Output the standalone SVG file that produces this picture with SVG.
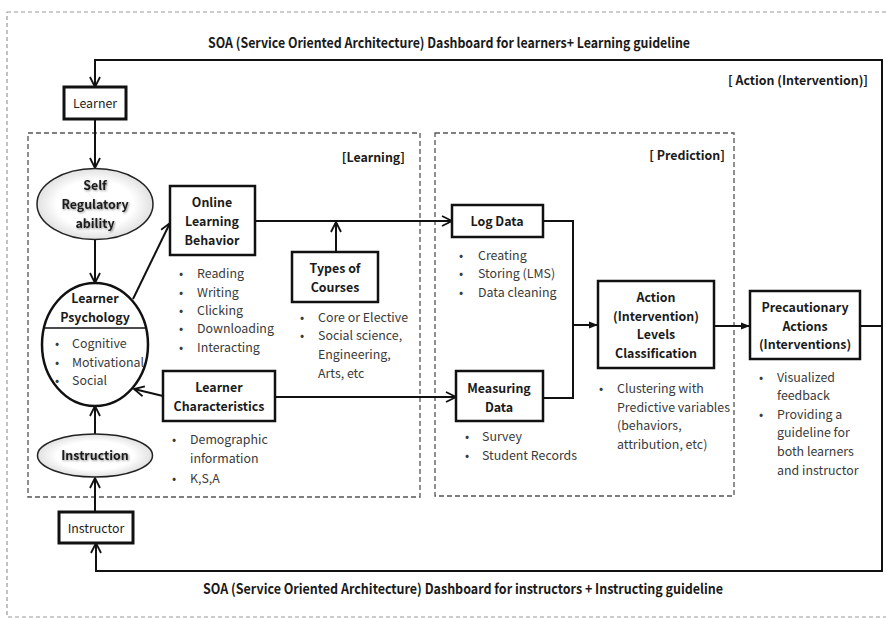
<svg xmlns="http://www.w3.org/2000/svg" width="886" height="618" viewBox="0 0 886 618">
<style>
text{font-family:"Noto Sans CJK KR","Liberation Sans",sans-serif;fill:#2a2a2a}
.t{font-size:12.4px;fill:#3a3a3a}
.b{font-size:12.4px;font-weight:bold;fill:#1a1a1a}
.h{font-size:14px;font-weight:bold;fill:#1a1a1a}
.m{text-anchor:middle}
.e{text-anchor:end}
.box{fill:#fff;stroke:#111;stroke-width:2.5}
.thick{fill:#fff;stroke:#111;stroke-width:3}
.dash{fill:none;stroke:#555;stroke-width:1.3;stroke-dasharray:5 3}
.outer{fill:none;stroke:#999;stroke-width:1.2;stroke-dasharray:4 3}
.ln{fill:none;stroke:#111;stroke-width:2}
.oa{marker-end:url(#open)}
.fa{marker-end:url(#fill)}
.sh{filter:url(#glow)}
</style>
<defs>
<marker id="open" viewBox="0 0 12 12" refX="11" refY="6" markerWidth="12" markerHeight="12" markerUnits="userSpaceOnUse" orient="auto">
<path d="M1,1 L11,6 L1,11" fill="none" stroke="#111" stroke-width="1.8"/>
</marker>
<marker id="fill" viewBox="0 0 10 10" refX="10" refY="5" markerWidth="9" markerHeight="9" markerUnits="userSpaceOnUse" orient="auto">
<path d="M0,1 L10,5 L0,9 z" fill="#111"/>
</marker>
<radialGradient id="eg" cx="50%" cy="50%" r="55%">
<stop offset="0.6" stop-color="#ffffff"/>
<stop offset="1" stop-color="#d8d8d8"/>
</radialGradient>
<filter id="glow" x="-20%" y="-40%" width="140%" height="180%">
<feGaussianBlur in="SourceAlpha" stdDeviation="1.2" result="b"/>
<feOffset dx="1" dy="1" result="o"/>
<feComponentTransfer in="o" result="s"><feFuncA type="linear" slope="0.45"/></feComponentTransfer>
<feMerge><feMergeNode in="s"/><feMergeNode in="SourceGraphic"/></feMerge>
</filter>
</defs>

<rect class="outer" x="7" y="12" width="890" height="605"/>
<rect class="dash" x="28" y="133" width="392" height="364"/>
<rect class="dash" x="435" y="133" width="299" height="363"/>

<text class="h m" x="449" y="48" textLength="482" lengthAdjust="spacingAndGlyphs">SOA (Service Oriented Architecture) Dashboard for learners+ Learning guideline</text>
<text class="h m" x="463" y="594" textLength="520" lengthAdjust="spacingAndGlyphs">SOA (Service Oriented Architecture) Dashboard for instructors + Instructing guideline</text>
<text class="b e" x="868" y="85">[ Action (Intervention)]</text>
<text class="b e" x="405" y="162">[Learning]</text>
<text class="b e" x="725" y="160">[ Prediction]</text>

<g id="connectors">
<path class="ln oa" d="M882,326 L882,60 L95,60 L95,87"/>
<path class="ln oa" d="M882,326 L882,571 L96,571 L96,543"/>
<path class="ln oa" d="M95,119 L95,168"/>
<path class="ln oa" d="M95,239 L95,283"/>
<path class="ln oa" d="M95,477 L95,406"/>
<path class="ln oa" d="M95,512 L95,478"/>
<path class="ln oa" d="M133,299 L170,223"/>
<path class="ln oa" d="M163,396 L134,389"/>
<path class="ln oa" d="M255,221 L452,221"/>
<path class="ln oa" d="M336,252 L336,222"/>
<path class="ln oa" d="M275,397 L456,397"/>
<path class="ln" d="M543,221 L573,221 L573,398 L543,398"/>
<path class="ln fa" d="M573,325 L598,325"/>
<path class="ln fa" d="M714,326 L750,326"/>
<path class="ln" d="M860,326 L882,326"/>
</g>

<g id="learner">
<rect class="thick" x="64" y="87" width="62" height="32"/>
<text class="t m" x="95" y="108" style="fill:#222">Learner</text>
</g>

<g id="self-regulatory">
<ellipse cx="95" cy="204" rx="58" ry="35.5" fill="url(#eg)" stroke="#222" stroke-width="1.5"/>
<text class="b m sh" x="95" y="190">Self</text>
<text class="b m sh" x="95" y="209">Regulatory</text>
<text class="b m sh" x="95" y="228">ability</text>
</g>

<g id="learner-psychology">
<ellipse cx="95" cy="344.5" rx="53" ry="61.5" fill="#fff" stroke="#111" stroke-width="2.5"/>
<line x1="43" y1="328" x2="147" y2="328" stroke="#111" stroke-width="1.5"/>
<text class="b m" x="95" y="303">Learner</text>
<text class="b m" x="95" y="322">Psychology</text>
<text class="t" x="55" y="348">•</text><text class="t" x="72" y="348">Cognitive</text>
<text class="t" x="55" y="367">•</text><text class="t" x="72" y="367">Motivational</text>
<text class="t" x="55" y="385">•</text><text class="t" x="72" y="385">Social</text>
</g>

<g id="instruction">
<ellipse cx="95" cy="455.5" rx="57.5" ry="21.5" fill="url(#eg)" stroke="#222" stroke-width="1.5"/>
<text class="b m sh" x="95" y="460">Instruction</text>
</g>

<g id="instructor">
<rect class="thick" x="59" y="512" width="74" height="31"/>
<text class="t m" x="96" y="533" style="fill:#222">Instructor</text>
</g>

<g id="online-learning-behavior">
<rect class="box" x="170" y="186" width="85" height="69"/>
<text class="b m" x="212" y="207">Online</text>
<text class="b m" x="212" y="226">Learning</text>
<text class="b m" x="212" y="245">Behavior</text>
<text class="t" x="179" y="278">•</text><text class="t" x="197" y="278">Reading</text>
<text class="t" x="179" y="297">•</text><text class="t" x="197" y="297">Writing</text>
<text class="t" x="179" y="315">•</text><text class="t" x="197" y="315">Clicking</text>
<text class="t" x="179" y="333">•</text><text class="t" x="197" y="333">Downloading</text>
<text class="t" x="179" y="352">•</text><text class="t" x="197" y="352">Interacting</text>
</g>

<g id="types-of-courses">
<rect class="box" x="292" y="252" width="86" height="50"/>
<text class="b m" x="335" y="273">Types of</text>
<text class="b m" x="335" y="292">Courses</text>
<text class="t" x="300" y="322">•</text><text class="t" x="318" y="322">Core or Elective</text>
<text class="t" x="300" y="340">•</text><text class="t" x="318" y="340">Social science,</text>
<text class="t" x="318" y="359">Engineering,</text>
<text class="t" x="318" y="378">Arts, etc</text>
</g>

<g id="learner-characteristics">
<rect class="box" x="163" y="371" width="112" height="50"/>
<text class="b m" x="219" y="392">Learner</text>
<text class="b m" x="219" y="411">Characteristics</text>
<text class="t" x="172" y="444">•</text><text class="t" x="190" y="444">Demographic</text>
<text class="t" x="190" y="463">information</text>
<text class="t" x="172" y="483">•</text><text class="t" x="190" y="483">K,S,A</text>
</g>

<g id="log-data">
<rect class="box" x="452" y="205" width="91" height="32"/>
<text class="b m" x="497" y="226">Log Data</text>
<text class="t" x="459" y="260">•</text><text class="t" x="478" y="260">Creating</text>
<text class="t" x="459" y="278">•</text><text class="t" x="478" y="278">Storing (LMS)</text>
<text class="t" x="459" y="297">•</text><text class="t" x="478" y="297">Data cleaning</text>
</g>

<g id="measuring-data">
<rect class="box" x="456" y="371" width="87" height="50"/>
<text class="b m" x="499" y="393">Measuring</text>
<text class="b m" x="499" y="412">Data</text>
<text class="t" x="465" y="441">•</text><text class="t" x="482" y="441">Survey</text>
<text class="t" x="465" y="460">•</text><text class="t" x="482" y="460">Student Records</text>
</g>

<g id="action-levels">
<rect class="box" x="598" y="281" width="116" height="87"/>
<text class="b m" x="656" y="302">Action</text>
<text class="b m" x="656" y="321">(Intervention)</text>
<text class="b m" x="656" y="339">Levels</text>
<text class="b m" x="656" y="358">Classification</text>
<text class="t" x="599" y="393">•</text><text class="t" x="617" y="393">Clustering with</text>
<text class="t" x="617" y="412">Predictive variables</text>
<text class="t" x="617" y="430">(behaviors,</text>
<text class="t" x="617" y="449">attribution, etc)</text>
</g>

<g id="precautionary-actions">
<rect class="box" x="750" y="291" width="110" height="68"/>
<text class="b m" x="805" y="312">Precautionary</text>
<text class="b m" x="805" y="331">Actions</text>
<text class="b m" x="805" y="349">(Interventions)</text>
<text class="t" x="759" y="382">•</text><text class="t" x="777" y="382">Visualized</text>
<text class="t" x="777" y="400">feedback</text>
<text class="t" x="759" y="419">•</text><text class="t" x="777" y="419">Providing a</text>
<text class="t" x="777" y="437">guideline for</text>
<text class="t" x="777" y="456">both learners</text>
<text class="t" x="777" y="475">and instructor</text>
</g>
</svg>
